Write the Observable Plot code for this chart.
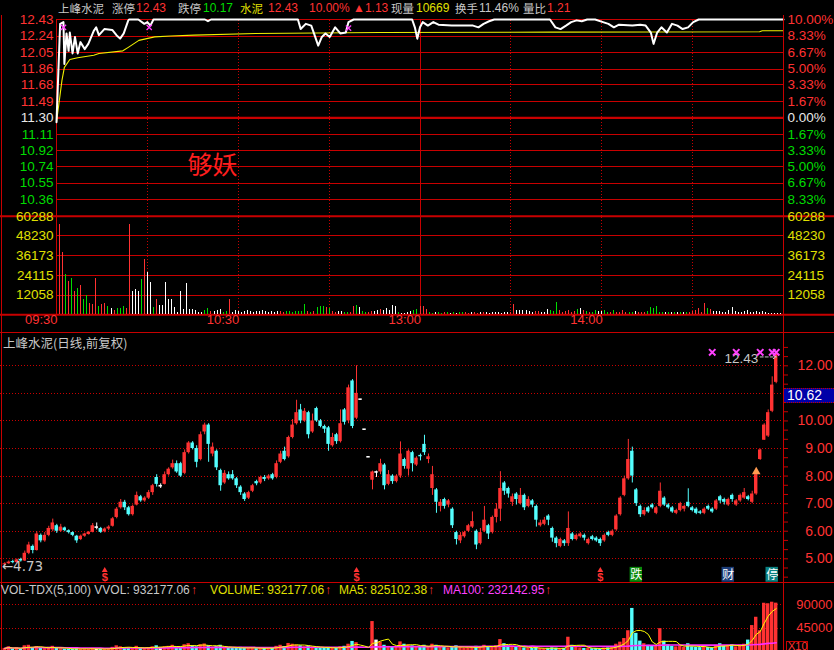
<!DOCTYPE html>
<html><head><meta charset="utf-8">
<script src="https://cdn.jsdelivr.net/npm/d3@7"></script>
<script src="https://cdn.jsdelivr.net/npm/@observablehq/plot@0.6"></script>
<style>
html,body{margin:0;padding:0;background:#000;}
#wrap{position:relative;width:834px;height:650px;overflow:hidden;background:#000;}
#wrap > svg{position:absolute;left:0;top:0;}
.t{position:absolute;white-space:pre;line-height:17px;height:17px;font-family:"Liberation Sans","DejaVu Sans","Noto Sans CJK SC",sans-serif;font-size:12px;}
.k{font-family:"Noto Sans CJK SC",sans-serif;font-size:11.5px;}
.b{position:absolute;background:#c80000;}
</style></head>
<body><div id="wrap"></div>
<script>
// ---------- colours ----------
const RED = "#ff3232", GRID = "#c80000", GREEN = "#00dc00", YEL = "#e0e000", CYAN = "#54ffff", WHITE = "#ffffff", GRAY = "#c8c8c8", MAG = "#ff40ff";

// ---------- intraday (分时) data ----------
const timeGridDotted = [30, 60, 90, 150, 180, 210];
const timeGridSolid = [0, 120, 240];
const timeTicks = [0, 60, 120, 180];
const timeLabels = ["09:30", "10:30", "13:00", "14:00"];
const priceTicks = [12.43, 12.24, 12.05, 11.86, 11.68, 11.49, 11.30, 11.11, 10.92, 10.74, 10.55, 10.36];
const pctLabels = ["10.00%", "8.33%", "6.67%", "5.00%", "3.33%", "1.67%", "0.00%", "1.67%", "3.33%", "5.00%", "6.67%", "8.33%"];
const volTicks = [60288, 48230, 36173, 24115, 12058];

const intraMin = [0,1.2,2.3,2.6,3.3,4.0,4.4,5.3,6.1,7.0,7.9,9.3,10.5,12.3,13.1,14.0,15.8,18.4,19.8,21.0,22.2,23.7,24,27,29,30,31,32,49,50,51,79.7,80.6,82.3,84.1,85,86.4,87.6,88.8,90.2,92,93.7,95.5,96.4,98.1,117.4,118.3,119.1,120,120.9,122.6,124.4,126.1,130.5,137.5,139.3,141,142.8,144.5,162.9,164.7,166.4,168.2,169.9,171.7,173.4,175.2,177.8,180.4,182.2,184,185.7,190.1,192.7,194.5,196.2,197.1,198.3,199.7,201.5,203.2,205,206.7,208.5,210.2,212,240];
const intraPrice = [11.25,12.38,12.40,11.92,12.27,12.07,12.28,12.04,12.23,12.04,12.17,12.09,12.15,12.30,12.34,12.25,12.32,12.31,12.25,12.21,12.27,12.42,12.43,12.43,12.38,12.40,12.36,12.43,12.43,12.41,12.43,12.43,12.32,12.38,12.36,12.27,12.13,12.23,12.27,12.23,12.34,12.27,12.28,12.40,12.43,12.43,12.34,12.21,12.34,12.40,12.36,12.40,12.37,12.36,12.36,12.34,12.38,12.41,12.43,12.43,12.34,12.32,12.36,12.40,12.42,12.41,12.43,12.43,12.40,12.38,12.34,12.37,12.36,12.37,12.36,12.28,12.15,12.28,12.34,12.28,12.38,12.36,12.32,12.34,12.40,12.43,12.43];
const avgMin = [0,1.8,2.6,4.4,7.0,12.3,14.0,21.9,23.7,27.2,32.4,37.7,45.5,65.7,106.9,163.8,232.1,233,240];
const avgPrice = [11.25,11.73,11.88,11.97,11.99,12.02,12.04,12.07,12.11,12.19,12.23,12.24,12.25,12.27,12.28,12.285,12.29,12.30,12.30];
const markMin = [2.3, 30.6, 96.4];
const markPrice = [12.34, 12.34, 12.33];

const intraVol = [
55200,37900,24650,20370,22200,14460,16090,17900,9370,11800,
7130,6520,22200,5090,6315,6925,5090,3670,2650,3670,
3870,5090,4070,55200,14460,15480,14460,21590,33800,25870,
19760,4480,9370,5700,5700,19760,9370,9370,4480,1430,
14260,3260,19150,3260,3260,2650,1220,1430,2850,3870,
2240,2040,2650,3260,1430,2240,9370,1600,2650,2000,
1600,2040,2650,2040,1600,2040,2040,2650,2040,1600,
2040,1430,2040,2040,1430,2040,2040,1430,2040,2040,
2040,6300,2040,1430,2040,4700,5100,5100,4300,3670,
2040,1430,2040,2040,1430,1430,1430,5100,5700,4300,
2040,1430,1430,2040,2040,2650,3000,2650,3670,2650,
5500,5100,1430,1020,1020,1430,2040,2650,3260,5100,
5100,3260,1430,1020,1430,1430,1020,1430,1430,1020,
1430,1020,1430,1430,1430,1020,1430,1430,1020,1430,
1430,1430,1020,1430,1430,1430,1020,1430,1430,1430,
6100,2650,2650,2650,2650,2040,1430,2040,2040,1430,
1430,3260,2650,2040,7500,2650,1430,2040,2650,1430,
2040,3260,3670,2650,2040,1430,1430,2650,2040,2040,
2650,1430,1430,2650,1430,1430,2650,1430,1430,1430,
2040,1430,1430,1430,2040,4300,3670,5100,1430,1430,
1430,1430,1430,1430,1430,1430,1430,1430,1430,2040,
2650,3670,1430,6700,3670,3260,2040,2040,2040,1430,
1430,2650,4500,2040,1430,1430,2040,2650,1430,1430,
2040,1430,2040,1430,1020,1020,1020,1020,1020,1020];
const intraDir = ("rrgrgrgrgg"+"rrrgrrgwrg"+"ggrrwwwgrw"+"wgrwwwwwww"+"wwwwwwwwgg"+"rwwwggrwww"+
  "wwwwwwwwww"+"wwwrrggggg"+"ggrgrgggrg"+"rrwwggrrgw"+"ggrrwwrwww"+"wwgwwwwggr"+
  "rrggwggrgw"+"gwggrrwrrw"+"rwwwwwwwwr"+"rwwwwwwrrw"+"wwgggrrrrr"+"rgwrgrggww"+
  "ggrgrrrrgg"+"wrrrgggggg"+"wgwgwgwgrr"+"rrrrgrwwww"+"wwwwwwwwww"+"wwwwwwwwww").split("");

// ---------- daily (日线) data ----------
const opens = [4.78,4.82,4.90,4.86,4.98,4.92,5.20,5.45,5.30,5.85,
5.65,5.85,6.05,6.20,6.00,6.12,6.02,5.95,5.82,5.70,
5.82,5.88,5.96,6.15,6.10,5.98,6.08,6.18,6.50,6.85,
7.05,6.85,6.60,6.95,7.25,7.10,7.20,7.40,7.95,7.65,
7.70,8.05,8.30,8.45,8.45,8.10,8.85,9.20,9.00,8.60,
9.60,9.85,8.80,8.90,8.20,7.75,8.05,8.05,7.90,7.60,
7.35,7.20,7.45,7.80,7.75,7.95,7.90,8.05,7.95,8.50,
8.90,8.70,9.40,9.90,10.40,10.00,10.30,9.60,10.45,10.00,
9.80,9.75,9.10,9.50,9.25,10.40,10.00,11.45,10.10,10.79,
9.70,8.70,7.85,8.15,8.15,8.40,7.70,8.00,7.80,8.00,
8.60,8.25,8.85,8.40,8.75,9.15,8.60,7.55,7.50,6.90,
7.15,6.95,6.80,5.95,5.65,5.80,6.00,6.15,6.00,5.55,
6.00,6.20,5.95,6.50,6.80,7.75,7.55,7.05,7.35,7.00,
7.30,6.90,7.10,6.90,6.20,6.25,6.55,6.10,5.75,5.45,
5.65,5.55,5.90,5.70,5.80,5.85,5.55,5.80,5.75,5.70,
5.65,5.95,5.85,6.05,6.60,7.30,7.90,8.90,7.50,6.90,
6.60,6.85,6.95,6.65,6.90,7.20,6.95,6.85,6.65,6.75,
6.80,7.05,6.85,6.80,6.70,6.65,6.90,6.80,6.80,7.25,
7.15,6.95,7.30,6.95,7.10,7.20,7.25,7.05,7.35,8.60,
9.30,9.45,10.35,11.40];
const closes = [4.82,4.88,4.86,4.96,4.92,5.20,5.50,5.30,5.90,5.65,
5.85,6.10,6.30,6.00,6.15,6.02,5.95,5.85,5.65,5.82,
5.90,5.96,6.20,6.15,5.96,6.08,6.15,6.45,6.80,7.05,
6.85,6.60,6.90,7.30,7.10,7.20,7.40,7.65,7.70,7.65,
8.05,8.25,8.45,8.15,8.00,8.85,9.20,9.00,8.50,9.50,
9.85,9.15,9.05,8.30,7.65,8.10,7.90,7.90,7.65,7.40,
7.15,7.40,7.65,7.72,7.95,7.88,8.00,7.90,8.45,8.80,
8.60,9.40,9.85,10.30,10.00,10.35,9.50,10.00,10.00,9.80,
9.70,9.15,9.40,9.25,9.90,9.95,11.20,9.80,11.00,10.79,
9.70,8.70,8.15,8.15,8.45,7.65,8.05,7.80,8.00,8.80,
8.35,8.90,8.45,8.65,8.70,8.85,8.70,8.05,7.05,7.05,
6.90,7.10,6.20,5.70,5.85,5.95,6.20,6.35,5.50,5.95,
6.40,5.90,6.50,6.80,7.55,7.45,7.35,7.25,7.15,7.30,
6.85,7.15,6.95,6.40,6.30,6.40,6.40,5.75,5.55,5.70,
5.55,6.10,5.70,5.85,5.90,5.75,5.70,5.70,5.65,5.55,
5.85,5.85,6.00,6.55,7.20,7.90,8.60,8.00,7.00,6.60,
6.75,6.70,6.85,6.85,7.45,6.95,6.85,6.70,6.75,7.00,
6.90,6.90,6.75,6.65,6.65,6.80,6.80,6.70,7.10,7.10,
7.05,7.15,7.15,7.10,7.30,7.40,7.15,7.35,8.05,8.95,
9.85,10.30,11.30,12.43];
const highs = [4.86,4.92,4.95,4.99,5.02,5.28,5.60,5.50,5.98,5.90,
5.95,6.18,6.44,6.25,6.25,6.15,6.05,5.98,5.85,5.86,
5.93,5.99,6.28,6.30,6.14,6.12,6.20,6.50,6.86,7.15,
7.12,6.90,6.95,7.42,7.30,7.25,7.48,7.70,8.05,7.72,
8.15,8.30,8.58,8.55,8.50,8.95,9.25,9.25,9.10,9.60,
9.92,9.90,9.20,8.95,8.25,8.20,8.15,8.20,7.95,7.65,
7.40,7.45,7.70,7.85,8.00,8.02,8.05,8.10,8.55,8.90,
9.05,9.45,10.05,10.75,10.60,10.45,10.35,10.25,10.50,10.05,
9.85,9.80,9.55,9.55,10.40,10.45,11.30,11.50,12.00,10.79,
9.70,8.70,8.18,8.18,8.61,8.45,8.20,8.05,8.05,9.24,
8.65,8.95,8.90,8.70,8.80,9.48,8.80,8.35,7.55,7.15,
7.20,7.15,6.85,6.00,5.95,6.00,6.25,6.70,6.05,6.10,
6.90,6.25,6.55,7.00,8.16,7.80,7.60,7.35,7.40,7.55,
7.35,7.25,7.15,6.95,6.40,6.50,6.60,6.15,5.80,5.75,
5.70,6.70,5.95,5.90,5.95,5.90,5.75,5.85,5.80,5.75,
5.90,6.00,6.05,6.60,7.25,8.00,9.33,9.05,7.55,6.95,
6.85,6.90,7.00,6.90,7.75,7.25,7.00,6.90,6.80,7.05,
6.95,7.54,6.90,6.85,6.75,6.85,6.95,6.85,7.15,7.30,
7.20,7.20,7.35,7.15,7.35,7.55,7.30,7.45,8.10,8.98,
9.90,10.40,11.60,12.43];
const lows = [4.73,4.80,4.82,4.84,4.88,4.90,5.15,5.18,5.28,5.58,
5.60,5.80,5.98,5.92,5.96,5.98,5.90,5.80,5.56,5.66,
5.78,5.86,5.94,6.05,5.92,5.94,6.02,6.15,6.45,6.80,
6.75,6.55,6.55,6.92,7.05,7.05,7.15,7.30,7.60,7.55,
7.68,8.00,8.25,8.10,7.95,8.05,8.80,8.95,8.30,8.55,
9.50,8.50,8.70,8.20,7.45,7.70,7.85,7.85,7.55,7.30,
7.08,7.15,7.40,7.65,7.70,7.80,7.85,7.85,7.90,8.45,
8.55,8.65,9.35,9.85,9.90,9.95,9.35,9.55,9.95,9.75,
9.55,8.90,9.05,9.15,9.20,9.85,9.90,9.72,10.05,10.79,
9.70,8.70,7.50,7.95,8.05,7.50,7.65,7.70,7.75,7.92,
8.25,8.00,8.15,8.35,8.55,8.75,8.45,7.30,6.65,6.70,
6.80,6.85,6.10,5.50,5.55,5.75,5.95,6.10,5.33,5.50,
5.95,5.70,5.90,6.30,6.35,7.30,7.20,6.90,6.95,6.95,
6.75,6.85,6.85,6.15,6.15,6.20,6.20,5.60,5.40,5.40,
5.45,5.45,5.65,5.65,5.75,5.65,5.50,5.65,5.60,5.45,
5.60,5.80,5.80,6.00,6.55,7.25,7.85,7.75,6.90,6.50,
6.55,6.65,6.80,6.60,6.85,6.90,6.80,6.65,6.60,6.70,
6.70,6.85,6.70,6.60,6.60,6.60,6.75,6.65,6.75,7.00,
6.95,6.90,7.05,6.90,7.05,7.15,7.10,7.00,7.30,8.57,
9.30,9.40,10.30,11.35];
const dailyVol = [6000,9000,5000,7000,4500,11000,12000,7000,9500,6000,
5500,8000,10000,6500,5000,4500,4000,5000,7000,4500,
5000,4000,6000,5500,4500,4000,5000,8000,11000,9000,
6500,7000,5500,10000,7000,6000,7500,9000,11000,8000,
9000,10000,12000,9000,8500,13000,15000,11000,9000,13000,
14500,11000,8000,9500,12000,8000,6500,6000,7000,8000,
7500,6000,7000,5500,6500,6000,7000,6500,10000,12000,
9500,15500,14000,12500,11000,9000,10500,8500,8000,7500,
6000,8000,7000,6500,9000,10000,14000,19400,17000,1200,
1000,1500,57700,22000,18000,12000,10000,8000,9000,18500,
14000,13000,11000,9000,10000,12000,8500,14000,12000,9000,
8000,7000,9500,11000,8000,6500,7000,8500,10000,9000,
12000,9000,8000,11000,23000,15000,11000,9000,8000,10000,
7000,6500,6000,7500,6000,5500,6000,7000,6500,5500,
6000,27500,12000,8000,7000,6000,6500,5500,6000,5000,
6500,7000,9000,14000,18000,25000,40000,83000,35000,20000,
15000,12000,10000,11000,44000,20000,13000,10000,9000,11000,
8000,15000,9000,8000,7500,9000,8000,7000,12000,15000,
10000,11000,13000,9000,12000,14000,22000,50000,66000,40000,
93000,92000,95000,93218];
const dailyGrid = [12, 11, 10, 9, 8, 7, 6, 5];
const dailyLabels = [12, 10, 9, 8, 7, 6, 5];
const volAxisTicks = [90000, 45000];
const topMarks = [177, 183, 189, 192, 193];
const sMarks = [25, 88, 149];
const events = [{i: 158, t: "跌", bg: "#0a8a0a"}, {i: 181, t: "财", bg: "#1c3d78"}, {i: 192, t: "停", bg: "#0a8080"}];

// ---------- build records ----------
const dirCol = {r: RED, g: GREEN, w: WHITE};
const intraPts = intraMin.map((m, i) => ({m, p: intraPrice[i]}));
const avgPts = avgMin.map((m, i) => ({m, p: avgPrice[i]}));
const markPts = markMin.map((m, i) => ({m, p: markPrice[i]}));
const ivol = intraVol.map((v, k) => ({m: k + 1, v, c: dirCol[intraDir[k]]}));
const candles = opens.map((o, i) => {
  const c = closes[i];
  return {i, o, c, h: highs[i], l: lows[i], col: c > o ? RED : c < o ? CYAN : WHITE};
});
const dvols = dailyVol.map((v, i) => ({i, v, col: candles[i].col}));
const idx = d3.range(opens.length);

const wrap = document.getElementById("wrap");
const base = {width: 834, margin: 0, color: {type: "identity"},
  style: {background: "transparent", overflow: "visible", fontFamily: "Liberation Sans"}};
const xMin = {domain: [0, 240], range: [56, 783], axis: null};
const FF = "Liberation Sans";

// ---------- Plot A: intraday price ----------
const priceCol = v => v > 11.3 ? RED : v < 11.3 ? GREEN : "#e8e8e8";
const plotA = Plot.plot({...base, height: 332,
  x: xMin, y: {domain: [10.17, 12.43], range: [215.7, 19], axis: null},
  marks: [
    Plot.ruleX(timeGridDotted, {y1: 10.17, y2: 12.43, stroke: GRID, strokeDasharray: "1,2", shapeRendering: "crispEdges"}),
    Plot.ruleX(timeGridSolid, {y1: 10.17, y2: 12.43, stroke: GRID, strokeWidth: 1, shapeRendering: "crispEdges"}),
    Plot.ruleY(priceTicks.filter(d => d !== 11.30), {x1: 0, x2: 240, stroke: GRID, strokeWidth: 1, shapeRendering: "crispEdges"}),
    Plot.ruleY([11.30], {x1: 0, x2: 240, stroke: GRID, strokeWidth: 2.4}),
    Plot.line(avgPts, {x: "m", y: "p", stroke: "#f0f000", strokeWidth: 1.1}),
    Plot.line(intraPts, {x: "m", y: "p", stroke: WHITE, strokeWidth: 2}),
    Plot.dot(markPts, {x: "m", y: "p", symbol: "times", r: 2.5, stroke: MAG, strokeWidth: 1.3}),
    Plot.text(priceTicks, {x: 0, y: d => d, text: d => d.toFixed(2), textAnchor: "end", dx: -3, fill: priceCol, fontSize: 13.5, fontFamily: FF}),
    Plot.text(priceTicks, {x: 240, y: d => d, text: (d, i) => pctLabels[i], textAnchor: "start", dx: 4, fill: priceCol, fontSize: 13.5, fontFamily: FF}),
    Plot.text([{m: 51.5, p: 10.75, t: "够妖"}], {x: "m", y: "p", text: "t", fill: "#ff1e1e", fontSize: 25, fontFamily: "Noto Sans CJK SC"})
  ]});

// ---------- Plot B: intraday volume ----------
const plotB = Plot.plot({...base, height: 332,
  x: xMin, y: {domain: [0, 60288], range: [314.3, 215.7], axis: null},
  marks: [
    Plot.ruleX(timeGridDotted, {y1: 0, y2: 60288, stroke: GRID, strokeDasharray: "1,2", shapeRendering: "crispEdges"}),
    Plot.ruleX(timeGridSolid, {y1: 0, y2: 60288, stroke: GRID, strokeWidth: 1, shapeRendering: "crispEdges"}),
    Plot.ruleY(volTicks.slice(1), {x1: 0, x2: 240, stroke: GRID, strokeWidth: 1, shapeRendering: "crispEdges"}),
    Plot.ruleY([60288], {stroke: GRID, strokeWidth: 2}),
    Plot.ruleY([0], {stroke: GRID, strokeWidth: 2}),
    Plot.ruleX(ivol, {x: "m", y1: 0, y2: "v", stroke: "c", strokeWidth: 1, shapeRendering: "crispEdges"}),
    Plot.text(volTicks, {x: 0, y: d => d, text: d => String(d), textAnchor: "end", dx: -3, fill: YEL, fontSize: 13.5, fontFamily: FF}),
    Plot.text(volTicks, {x: 240, y: d => d, text: d => String(d), textAnchor: "start", dx: 4, fill: YEL, fontSize: 13.5, fontFamily: FF}),
    Plot.text(timeTicks, {x: d => d, text: (d, i) => timeLabels[i], frameAnchor: "bottom", dy: -9, textAnchor: "end", dx: 1, fill: RED, fontSize: 13, fontFamily: FF})
  ]});

// ---------- Plot C: daily candles ----------
const xBand = {type: "band", domain: idx, range: [2, 778], padding: 0.15, axis: null};
const minorTicks = d3.range(13, 39).map(k => k / 3);
const plotC = Plot.plot({...base, height: 650, marginRight: 51,
  x: xBand, y: {domain: [5, 12], range: [558.3, 365.3], axis: null},
  marks: [
    Plot.ruleY(dailyGrid, {stroke: GRID, strokeDasharray: "1,2", shapeRendering: "crispEdges"}),
    Plot.axisY(minorTicks, {anchor: "right", tickSize: 4, tickFormat: () => "", color: GRID, label: null}),
    Plot.ruleX(candles, {x: "i", y1: "l", y2: "h", stroke: "col", strokeWidth: 1}),
    Plot.barY(candles.filter(d => d.o !== d.c), {x: "i", y1: "o", y2: "c", fill: "col"}),
    Plot.tickY(candles.filter(d => d.o === d.c), {x: "i", y: "c", stroke: WHITE, strokeWidth: 1.6}),
    Plot.text(dailyLabels, {y: d => d, text: d => d.toFixed(2), frameAnchor: "right", textAnchor: "end", dx: 49, fill: RED, fontSize: 14, fontFamily: FF}),
    Plot.text([{i: 189, p: 12.43}], {x: "i", y: "p", text: d => d.p.toFixed(2), textAnchor: "end", dx: -2, dy: 5, fill: GRAY, fontSize: 13.5, fontFamily: FF}),
    Plot.arrow([{a: 189, b: 193, p: 12.43}], {x1: "a", x2: "b", y1: "p", y2: "p", dy: 3, stroke: GRAY, strokeWidth: 1, strokeDasharray: "3,2", headLength: 5}),
    Plot.text([{i: 0, p: 4.73}], {x: "i", y: "p", text: d => "←" + d.p.toFixed(2), textAnchor: "start", dx: -3, fill: GRAY, fontSize: 13.5, fontFamily: "DejaVu Sans"}),
    Plot.dot(topMarks, {x: d => d, y: 12.49, symbol: "times", r: 3, stroke: MAG, strokeWidth: 2}),
    Plot.dot([188], {x: d => d, y: 8.16, symbol: "triangle", r: 3.2, fill: "#ff9a50"}),
    Plot.dot(sMarks, {x: d => d, y: 4.58, symbol: "triangle", r: 2.2, fill: RED}),
    Plot.text(sMarks, {x: d => d, y: 4.32, text: () => "$", fill: RED, fontSize: 11, fontWeight: "bold", fontFamily: FF}),
    Plot.barY(events, {x: "i", y1: 4.15, y2: 4.69, fill: "bg", insetLeft: -4.5, insetRight: -4.5}),
    Plot.text(events, {x: "i", y: 4.42, text: "t", fill: WHITE, fontSize: 12, fontFamily: "Noto Sans CJK SC"})
  ]});

// ---------- Plot D: VOL-TDX ----------
const plotD = Plot.plot({...base, height: 650, marginRight: 51,
  x: xBand, y: {domain: [0, 90000], range: [651, 604.3], axis: null},
  marks: [
    Plot.ruleY(volAxisTicks, {stroke: GRID, strokeDasharray: "1,2", shapeRendering: "crispEdges"}),
    Plot.barY(dvols, {x: "i", y: "v", fill: "col"}),
    Plot.lineY(dvols, Plot.windowY({k: 100, anchor: "end"}, {x: "i", y: "v", stroke: "#ff2cff", strokeWidth: 1.6})),
    Plot.lineY(dvols, Plot.windowY({k: 5, anchor: "end"}, {x: "i", y: "v", stroke: "#ffff00", strokeWidth: 1})),
    Plot.text(volAxisTicks, {y: d => d, text: d => String(d), frameAnchor: "right", textAnchor: "end", dx: 49, fill: RED, fontSize: 13, fontFamily: FF})
  ]});

[plotA, plotB, plotC, plotD].forEach(p => wrap.appendChild(p));

// ---------- borders / panel separators ----------
function bar(l, t, w, h) { const d = document.createElement("div"); d.className = "b";
  d.style.cssText += `left:${l}px;top:${t}px;width:${w}px;height:${h}px;`; wrap.appendChild(d); }
bar(0.5, 15, 1, 635);
bar(783, 15, 1, 635);
bar(0, 331.5, 834, 1.5);
bar(0, 581.5, 834, 1.2);

// ---------- text overlays ----------
function txt(x, y, t, color, cls, extra) { const s = document.createElement("div");
  s.className = "t" + (cls ? " " + cls : ""); s.textContent = t;
  s.style.cssText += `left:${x}px;top:${y}px;color:${color};` + (extra || ""); wrap.appendChild(s); }
const header = [
  [58, "上峰水泥", GRAY, "k"], [112, "涨停", GRAY, "k"], [136, "12.43", RED], [178, "跌停", GRAY, "k"],
  [203, "10.17", GREEN], [240, "水泥", YEL, "k"], [268, "12.43", RED], [309, "10.00%", RED],
  [353, "▲1.13", RED], [391, "现量", GRAY, "k"], [416, "10669", YEL], [455, "换手", GRAY, "k"],
  [479, "11.46%", GRAY], [523, "量比", GRAY, "k"], [547, "1.21", RED]];
header.forEach(([x, t, c, k]) => txt(x, 0, t, c, k));
txt(3, 333.5, "上峰水泥(日线,前复权)", GRAY, "k", "font-size:12.5px;");
const volHeader = [[1, "VOL-TDX(5,100) VVOL: 932177.06", GRAY], [191, "↑", RED], [210, "VOLUME: 932177.06", YEL],
  [325, "↑", RED], [339, "MA5: 825102.38", YEL], [428, "↑", RED], [443, "MA100: 232142.95", MAG], [545, "↑", RED]];
volHeader.forEach(([x, t, c]) => txt(x, 581.5, t, c, null, "font-size:12px;"));

// cursor readout box and X10 box
const box = document.createElement("div");
box.style.cssText = "position:absolute;left:784px;top:388px;width:50px;height:15px;background:#0000a8;border-top:1px dotted #c80000;border-bottom:1px dotted #c80000;box-sizing:border-box;";
wrap.appendChild(box);
txt(787, 387, "10.62", WHITE, null, "font-size:14px;");
const x10 = document.createElement("div");
x10.style.cssText = "position:absolute;left:786px;top:641px;width:22px;height:12px;border:1px solid #c80000;box-sizing:border-box;";
wrap.appendChild(x10);
txt(788, 637.5, "X10", RED, null, "font-size:11px;");
</script></body></html>
